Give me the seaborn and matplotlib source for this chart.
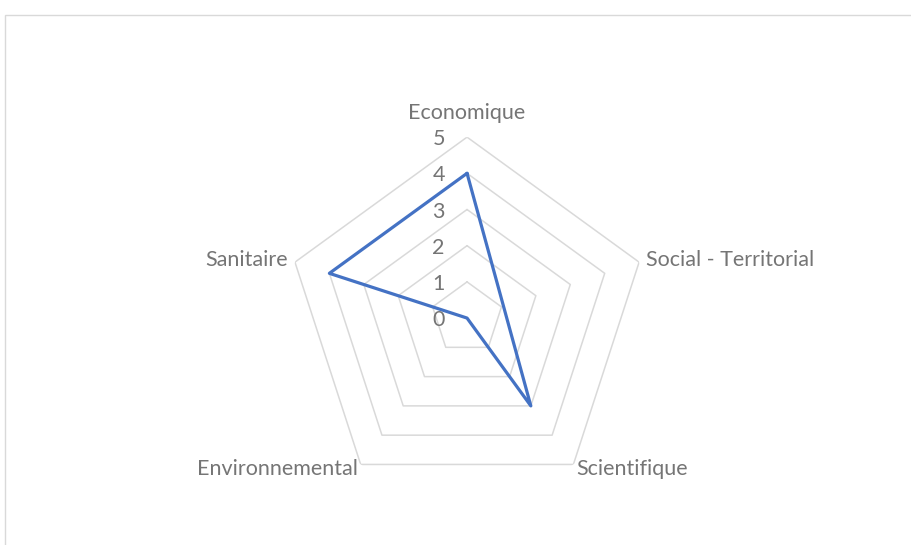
import numpy as np
import pandas as pd
import matplotlib.pyplot as plt
import seaborn as sns
from matplotlib.patches import Rectangle

# radar values (Social - Territorial left empty in the source sheet)
categories = ["Economique", "Social - Territorial", "Scientifique", "Environnemental", "Sanitaire"]
scores = [4, np.nan, 3, 0, 4]
levels = [0, 1, 2, 3, 4, 5]

sns.set_theme(style="white")
plt.rcParams["font.family"] = ["Lato", "DejaVu Sans"]

angles = np.linspace(0, 2 * np.pi, len(categories), endpoint=False)
df = pd.DataFrame({"cat": categories, "theta": angles, "score": scores}).dropna()
df = pd.concat([df, df.iloc[:1]], ignore_index=True)

fig = plt.figure(figsize=(9.12, 5.45), dpi=100)
ax = fig.add_axes([0.3136, 0.0844, 0.397, 0.664], projection="polar")
ax.set_theta_offset(np.pi / 2)
ax.set_theta_direction(-1)

# pentagon grid rings
ring_theta = np.append(angles, angles[0])
for lv in levels[1:]:
    ax.plot(ring_theta, [lv] * len(ring_theta), color="#d9d9d9", lw=1.1, zorder=1)

sns.lineplot(data=df, x="theta", y="score", sort=False, estimator=None,
             color="#4472C4", lw=2.3, ax=ax, zorder=3)

ax.set_ylim(0, 5)
ax.set_xticks([])
ax.set_yticks([])
ax.set_xlabel("")
ax.set_ylabel("")
ax.grid(False)
ax.spines["polar"].set_visible(False)
ax.set_facecolor("none")

txt = "#757575"
fs = 15.5
for lv in levels:
    ax.annotate(str(lv), xy=(0, lv), xytext=(-16, -1.5), textcoords="offset points",
                ha="right", va="center", color=txt, fontsize=fs)

label_pos = [(5.66, "center"), (5.2, "left"), (5.15, "left"), (5.15, "right"), (5.2, "right")]
for ang, cat, (r, ha) in zip(angles, categories, label_pos):
    ax.text(ang, r, cat, ha=ha, va="center", color=txt, fontsize=fs)

# chart area border (cut off at right / bottom)
fig.add_artist(Rectangle((5.5 / 912, -0.5), 2, 1.5 - 14.5 / 545,
                         transform=fig.transFigure, fill=False,
                         edgecolor="#d9d9d9", lw=1))

fig.savefig("out.png", dpi=100)
